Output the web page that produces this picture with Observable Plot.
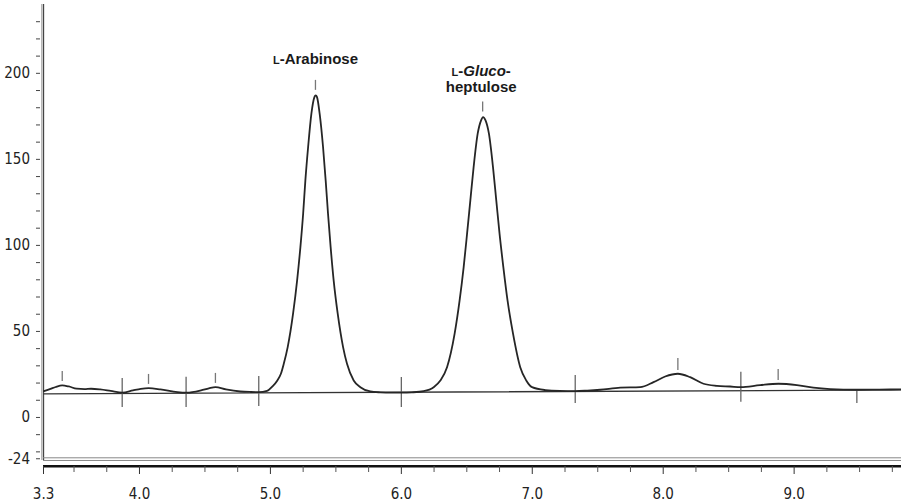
<!DOCTYPE html>
<html><head><meta charset="utf-8">
<script src="https://cdn.jsdelivr.net/npm/d3@7"></script>
<script src="https://cdn.jsdelivr.net/npm/@observablehq/plot@0.6"></script>
<style>body{margin:0;background:#fff}</style>
</head><body><div id="chart"></div>
<script>
// Chromatogram trace (retention time in min, detector signal)
const times = [3.27,3.32,3.36,3.41,3.46,3.52,3.58,3.63,3.70,3.78,3.87,3.95,4.01,4.07,4.16,4.29,4.36,4.47,4.53,4.58,4.66,4.77,4.85,4.91,4.975,5.015,5.053,5.080,
  5.102,5.132,5.173,5.204,5.229,5.250,5.267,5.288,5.313,5.336,5.346,5.356,5.376,5.402,5.422,5.440,5.460,5.483,5.514,5.555,5.585,5.636,5.687,5.763,5.84,5.92,6.00,6.08,6.17,
  6.247,6.298,6.349,6.407,6.445,6.476,6.502,6.527,6.552,6.583,6.609,6.624,6.643,6.669,6.700,6.725,6.750,6.779,6.811,6.853,6.908,6.954,6.998,7.10,7.21,7.328,7.42,7.519,7.672,7.824,
  7.926,8.015,8.112,8.206,8.308,8.410,8.511,8.593,8.740,8.880,9.021,9.147,9.275,9.479,9.65,9.82];
const signal = [15.3,16.6,17.7,18.6,18.0,16.7,16.5,16.7,16.3,15.4,14.4,15.7,16.6,17.0,16.3,14.7,14.4,15.7,16.9,17.6,16.3,15.1,14.8,14.7,15.4,18.0,21.5,25.4,
  31.2,40.9,60.3,79.7,99.0,118.4,137.8,157.2,176.6,186.2,187.2,186.2,176.6,157.2,137.8,118.4,99.0,79.7,60.3,40.9,31.2,21.5,17.6,15.1,14.6,14.4,14.4,14.6,15.3,
  17.6,21.5,29.2,48.7,68.0,87.4,106.8,126.2,145.5,164.9,172.7,174.6,172.7,164.9,145.5,126.2,106.8,87.4,68.0,48.7,29.2,21.5,17.6,15.9,15.4,15.3,15.6,16.1,17.3,17.6,
  20.5,23.8,25.4,23.4,19.6,18.4,18.0,17.6,18.8,19.6,18.8,17.3,16.5,16.1,16.2,16.3];

// Drawn baseline
const baselineTimes = [3.267, 9.82];
const baselineValues = [13.7, 16.0];

// Small peak-apex markers
const apexTimes = [3.41, 4.069, 4.58, 5.344, 6.621, 8.112, 8.878];
const apexLow  = [20.9, 19.2, 19.8, 190.1, 177.5, 27.3, 21.5];
const apexHigh = [26.7, 25.0, 25.6, 195.9, 183.3, 34.3, 27.9];

// Integration boundary markers
const boundTimes = [3.868, 4.356, 4.911, 6.0, 7.328, 8.593, 9.479];
const boundLow  = [5.8, 5.8, 6.4, 5.8, 8.1, 8.9, 8.1];
const boundHigh = [22.7, 23.3, 23.8, 23.2, 24.4, 26.3, 15.7];

// Axes
const xTickValues = [3.267, 4, 5, 6, 7, 8, 9];
const xTickLabels = ["3.3", "4.0", "5.0", "6.0", "7.0", "8.0", "9.0"];
const xMinorTicks = [3.5,3.75,4.25,4.5,4.75,5.25,5.5,5.75,6.25,6.5,6.75,7.25,7.5,7.75,8.25,8.5,8.75,9.25,9.5,9.75];
const yTickValues = [200, 150, 100, 50, 0, -24];
const yTickLabels = ["200", "150", "100", "50", "0", "-24"];
const yMinorTicks = [-20,-10,10,20,30,40,60,70,80,90,110,120,130,140,160,170,180,190,210,220,230];

// Peak labels
const labelTexts = ["L-Arabinose", "L-Gluco-", "heptulose"];
const labelTimes = [5.344, 6.61, 6.61];
const labelValues = [208.3, 201.5, 191.8];

const xLabelMap = new Map(xTickValues.map((d, i) => [d, xTickLabels[i]]));
const yLabelMap = new Map(yTickValues.map((d, i) => [d, yTickLabels[i]]));
const trace = times.map((t, i) => ({t, v: signal[i]}));
const base = baselineTimes.map((t, i) => ({t, v: baselineValues[i]}));
const apex = apexTimes.map((t, i) => ({t, lo: apexLow[i], hi: apexHigh[i]}));
const bounds = boundTimes.map((t, i) => ({t, lo: boundLow[i], hi: boundHigh[i]}));
const labels = labelTexts.map((s, i) => ({s, t: labelTimes[i], v: labelValues[i]}));

const axisFont = "'Liberation Sans Narrow', 'Arial Narrow', 'DejaVu Sans Condensed', sans-serif";
const x0 = 3.267, x1 = 9.82;

const svg = Plot.plot({
  width: 901,
  height: 503,
  marginLeft: 40,
  marginRight: 0,
  marginTop: 4,
  marginBottom: 37,
  style: {fontFamily: axisFont, fontSize: "15px", color: "#222", background: "#fff"},
  x: {domain: [3.244, 9.82], axis: null, label: null},
  y: {domain: [-28.5, 240], axis: null, label: null},
  marks: [
    // frame lines
    Plot.ruleX([3.254], {y1: -25, y2: 240, stroke: "#999", strokeWidth: 1}),
    Plot.ruleX([x0], {y1: -25, y2: 240, stroke: "#444", strokeWidth: 1.3}),
    Plot.ruleY([-23.45, -25.0], {x1: x0, x2: x1, stroke: "#888", strokeWidth: 1}),
    Plot.ruleY([-28.3], {x1: x0, x2: x1, stroke: "#111", strokeWidth: 2.5}),
    // axes
    Plot.axisY(yTickValues, {anchor: "left", tickSize: 4, tickPadding: 6.5, stroke: "#444", tickFormat: d => yLabelMap.get(d)}),
    Plot.axisY(yMinorTicks, {anchor: "left", tickSize: 4, stroke: "#444", fill: "none"}),
    Plot.axisX(xTickValues, {anchor: "bottom", tickSize: 8, tickPadding: 14, stroke: "#333", tickFormat: d => xLabelMap.get(d)}),
    Plot.axisX(xMinorTicks, {anchor: "bottom", tickSize: 6, stroke: "#555", fill: "none"}),
    // baseline and markers
    Plot.line(base, {x: "t", y: "v", stroke: "#333", strokeWidth: 1.3}),
    Plot.ruleX(bounds, {x: "t", y1: "lo", y2: "hi", stroke: "#666", strokeWidth: 1.3}),
    Plot.ruleX(apex, {x: "t", y1: "lo", y2: "hi", stroke: "#777", strokeWidth: 1.3}),
    // trace
    Plot.line(trace, {x: "t", y: "v", stroke: "#262626", strokeWidth: 1.8, curve: "monotone-x"}),
    // labels
    Plot.text(labels, {x: "t", y: "v", text: "s", fontFamily: "'Liberation Sans', Arial, sans-serif", fontWeight: "bold", fontSize: 15, fill: "#1a1a1a"})
  ]
});

// Typographic details: small-cap L and italic "Gluco"
const NS = "http://www.w3.org/2000/svg";
svg.querySelectorAll("text").forEach(node => {
  const s = node.textContent;
  if (s === "L-Arabinose" || s === "L-Gluco-") {
    while (node.firstChild) node.removeChild(node.firstChild);
    const l = document.createElementNS(NS, "tspan");
    l.setAttribute("font-size", "11");
    l.textContent = "L";
    node.appendChild(l);
    if (s === "L-Arabinose") {
      node.appendChild(document.createTextNode("-Arabinose"));
    } else {
      node.appendChild(document.createTextNode("-"));
      const it = document.createElementNS(NS, "tspan");
      it.setAttribute("font-style", "italic");
      it.textContent = "Gluco";
      node.appendChild(it);
      node.appendChild(document.createTextNode("-"));
    }
  }
});

document.getElementById("chart").appendChild(svg);
</script>
</body></html>
